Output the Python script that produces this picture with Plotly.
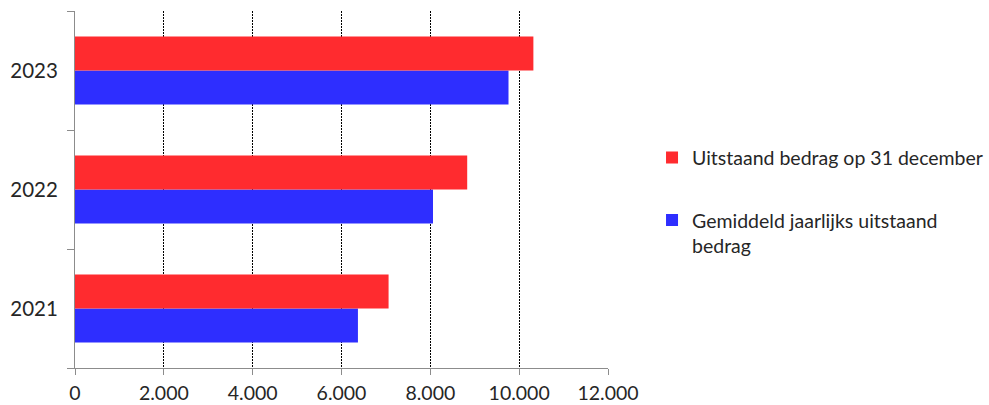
import plotly.graph_objects as go

# Jaren en bedragen
years = ["2021", "2022", "2023"]
uitstaand_31_dec = [7060, 8830, 10320]
gemiddeld_uitstaand = [6370, 8060, 9760]
x_tick_values = [0, 2000, 4000, 6000, 8000, 10000, 12000]

RED = "#FF2B2F"
BLUE = "#2E2EFF"
AXIS_GREY = "#8C8C8C"
TEXT = "#262626"
FONT = "Lato"

fig = go.Figure()
fig.add_trace(go.Bar(
    y=years, x=gemiddeld_uitstaand, orientation="h",
    name="Gemiddeld jaarlijks uitstaand<br>bedrag",
    marker=dict(color=BLUE, line=dict(width=0)),
    legendgroup="gemiddeld", legendrank=2,
))
fig.add_trace(go.Bar(
    y=years, x=uitstaand_31_dec, orientation="h",
    name="Uitstaand bedrag op 31 december",
    marker=dict(color=RED, line=dict(width=0)),
    legendgroup="ultimo", legendrank=1,
))

fig.update_layout(
    width=989, height=405, autosize=False,
    margin=dict(l=75, r=381, t=11, b=37, autoexpand=False),
    paper_bgcolor="white", plot_bgcolor="white",
    barmode="group", bargap=0.43, bargroupgap=0,
    separators=",.",
    font=dict(family=FONT, size=20, color=TEXT),
    legend=dict(
        x=1.0826, xanchor="left", y=0.643, yanchor="top",
        traceorder="grouped", tracegroupgap=34, valign="top",
        font=dict(family=FONT, size=19.5, color=TEXT),
        bgcolor="rgba(0,0,0,0)", borderwidth=0,
    ),
    xaxis=dict(
        range=[0, 12000], tickvals=x_tick_values, tickformat=",.0f",
        tickfont=dict(family=FONT, size=19.5, color=TEXT),
        showgrid=True, gridcolor="#000000", gridwidth=1, griddash="2px,1px",
        showline=True, linecolor=AXIS_GREY, linewidth=1,
        ticks="outside", ticklen=6, tickcolor=AXIS_GREY,
        zeroline=False, ticklabelstandoff=2, automargin=False,
    ),
    yaxis=dict(
        tickfont=dict(family=FONT, size=20.5, color=TEXT),
        showgrid=False, showline=True, linecolor=AXIS_GREY, linewidth=1,
        ticks="outside", tickson="boundaries", ticklen=7, tickcolor=AXIS_GREY,
        zeroline=False, ticklabelstandoff=12, automargin=False,
    ),
)

fig.write_html("out.html")
